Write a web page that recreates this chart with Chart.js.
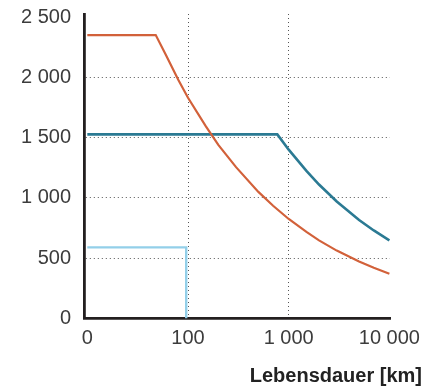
<!DOCTYPE html>
<html>
<head>
<meta charset="utf-8">
<script src="https://cdn.jsdelivr.net/npm/chart.js@4/dist/chart.umd.min.js"></script>
<style>
  html, body { margin: 0; padding: 0; background: #fff; }
  #wrap { width: 437px; height: 390px; }
</style>
</head>
<body>
<div id="wrap"><canvas id="lifeChart" width="437" height="390"></canvas></div>
<script>
// Values (x = Lebensdauer in km, log axis)
const orangeX = [10, 47.8, 60, 80, 100, 150, 200, 300, 500, 700, 1000, 1500, 2000, 3000, 5000, 7000, 10000];
const orangeY = [2350, 2350, 2190, 1980, 1830, 1595, 1440, 1255, 1050, 935, 825, 718, 648, 563, 472, 420, 371];

const tealX = [10, 771, 1000, 1500, 2000, 3000, 5000, 7000, 10000];
const tealY = [1527, 1527, 1400, 1224, 1111, 970, 817, 730, 647];

const lightX = [10, 96, 96];
const lightY = [590, 590, 0];

const xTicks = [10, 100, 1000, 10000];
const yTicks = [0, 500, 1000, 1500, 2000, 2500];
const xGridAt = [100, 1000];
const yGridAt = [500, 1000, 1500, 2000];
const xTitle = "Lebensdauer [km]";

function toPoints(xs, ys) {
  return xs.map((x, i) => ({ x: x, y: ys[i] }));
}

// German-style thousands with a space
function fmt(v) {
  return String(Math.round(v)).replace(/\B(?=(\d{3})+(?!\d))/g, " ");
}

const tickFont = { family: "'Liberation Sans', Arial, sans-serif", size: 20 };

// axis title drawn at the right, past the end of the x axis
const axisTitle = {
  id: "axisTitle",
  afterDraw(chart) {
    const c = chart.ctx;
    c.save();
    c.font = "bold 20px 'Liberation Sans', Arial, sans-serif";
    c.fillStyle = "#222";
    c.textAlign = "right";
    c.textBaseline = "alphabetic";
    c.fillText(xTitle, 422, 382);
    c.restore();
  },
};

const ctx = document.getElementById("lifeChart").getContext("2d");
new Chart(ctx, {
  type: "line",
  data: {
    datasets: [
      {
        data: toPoints(orangeX, orangeY),
        borderColor: "#d2613a",
        borderWidth: 2.2,
      },
      {
        data: toPoints(tealX, tealY),
        borderColor: "#2b7a93",
        borderWidth: 2.6,
      },
      {
        data: toPoints(lightX, lightY),
        borderColor: "#93cfe9",
        borderWidth: 2.4,
      },
    ],
  },
  options: {
    responsive: false,
    animation: false,
    events: [],
    layout: { padding: { top: 14, right: 47, left: 0, bottom: 0 } },
    elements: {
      point: { radius: 0 },
      line: { tension: 0, fill: false, borderCapStyle: "butt", borderJoinStyle: "miter" },
    },
    plugins: { legend: { display: false }, tooltip: { enabled: false } },
    scales: {
      x: {
        type: "logarithmic",
        min: 9.27,
        max: 10140,
        afterBuildTicks: (scale) => {
          scale.ticks = xTicks.map((v) => ({ value: v }));
        },
        afterFit: (scale) => {
          scale.height = 71.5;
        },
        ticks: {
          autoSkip: false,
          maxRotation: 0,
          padding: 8,
          color: "#3c3c3c",
          font: tickFont,
          callback: (v) => (v === 10 ? "0" : fmt(v)),
        },
        grid: {
          drawTicks: false,
          lineWidth: 1,
          color: (c) => (c.tick && xGridAt.includes(c.tick.value) ? "#555" : "rgba(0,0,0,0)"),
        },
        border: { display: true, color: "#231f20", width: 2.8, dash: [1, 3] },
      },
      y: {
        type: "linear",
        min: 0,
        max: 2525,
        afterBuildTicks: (scale) => {
          scale.ticks = yTicks.map((v) => ({ value: v }));
        },
        afterFit: (scale) => {
          scale.width = 84;
          // keep the label padding from pushing the plot down
          scale.paddingTop = 0;
          scale.paddingBottom = 0;
        },
        ticks: {
          padding: 13,
          color: "#3c3c3c",
          font: tickFont,
          callback: (v) => fmt(v),
        },
        grid: {
          drawTicks: false,
          lineWidth: 1,
          color: (c) => (c.tick && yGridAt.includes(c.tick.value) ? "#555" : "rgba(0,0,0,0)"),
        },
        border: { display: true, color: "#231f20", width: 2.8, dash: [1, 3] },
      },
    },
  },
  plugins: [axisTitle],
});
</script>
</body>
</html>
